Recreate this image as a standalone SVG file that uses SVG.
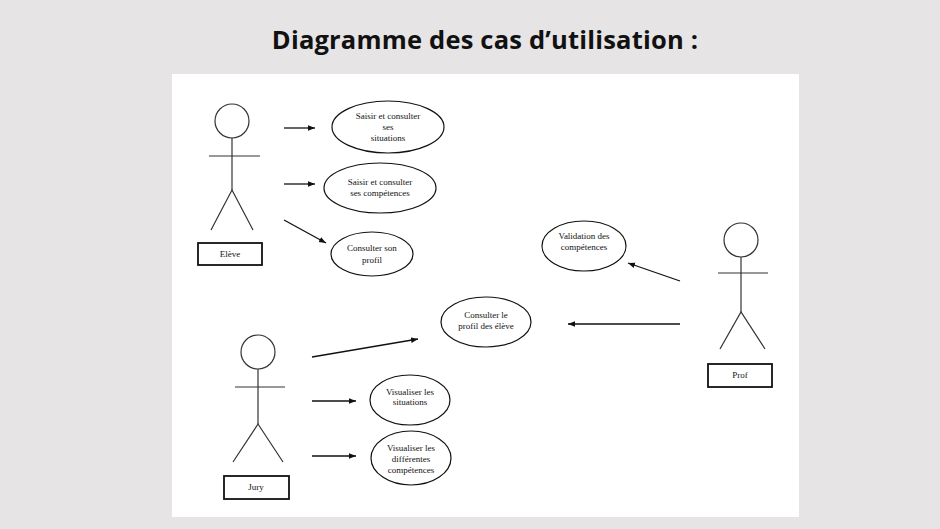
<svg xmlns="http://www.w3.org/2000/svg" width="940" height="529" viewBox="0 0 940 529">
<style>
.a{fill:none;stroke:#333;stroke-width:1.2}
.e{fill:#fff;stroke:#111;stroke-width:1.2}
.c{stroke:#111;stroke-width:1.3;fill:none;marker-end:url(#ar)}
.t{font-family:"Liberation Serif",serif;font-size:9px;fill:#111;text-anchor:middle}
.b{fill:#fff;stroke:#111;stroke-width:1.8}
</style>
<defs><marker id="ar" viewBox="0 0 10 10" refX="10" refY="5" markerWidth="7" markerHeight="7" orient="auto" markerUnits="userSpaceOnUse"><path d="M0,1 L10,5 L0,9z" fill="#111"/></marker></defs>
<rect width="940" height="529" fill="#e6e4e5"/>
<rect x="172" y="74" width="627" height="443" fill="#fff"/>
<text x="485" y="49" font-family="Open Sans,sans-serif" font-weight="bold" font-size="25.5" letter-spacing="0.2" text-anchor="middle" fill="#111">Diagramme des cas d’utilisation :</text>
<g id="eleve">
<circle class="a" cx="232" cy="121" r="17"/><line class="a" x1="232" y1="138" x2="232" y2="190"/><line class="a" x1="209" y1="156" x2="260" y2="156"/><polyline class="a" points="211,230 232,190 253,230"/>
<rect class="b" x="198" y="243" width="64" height="22"/><text class="t" x="230" y="257">Elève</text></g>
<g id="jury">
<circle class="a" cx="258" cy="352" r="17"/><line class="a" x1="258" y1="369" x2="258" y2="424"/><line class="a" x1="235" y1="387" x2="285" y2="387"/><polyline class="a" points="233,462 258,424 283,462"/>
<rect class="b" x="224" y="476" width="65" height="23"/><text class="t" x="256" y="490">Jury</text></g>
<g id="prof">
<circle class="a" cx="741" cy="240" r="17"/><line class="a" x1="741" y1="257" x2="741" y2="312"/><line class="a" x1="718" y1="273" x2="768" y2="273"/><polyline class="a" points="720,349 741,312 765,349"/>
<rect class="b" x="708" y="364" width="64" height="23"/><text class="t" x="740" y="378">Prof</text></g>
<g id="uc1"><ellipse class="e" cx="388" cy="127" rx="56" ry="26"/><text class="t" x="388" y="119">Saisir et consulter</text><text class="t" x="388" y="130">ses</text><text class="t" x="388" y="141">situations</text></g>
<g id="uc2"><ellipse class="e" cx="380" cy="188" rx="56" ry="25"/><text class="t" x="380" y="185">Saisir et consulter</text><text class="t" x="380" y="196">ses compétences</text></g>
<g id="uc3"><ellipse class="e" cx="372" cy="254" rx="41" ry="22"/><text class="t" x="372" y="251">Consulter son</text><text class="t" x="372" y="263">profil</text></g>
<g id="uc4"><ellipse class="e" cx="584" cy="246" rx="42" ry="25"/><text class="t" x="584" y="239">Validation des</text><text class="t" x="584" y="250">compétences</text></g>
<g id="uc5"><ellipse class="e" cx="486" cy="322" rx="45" ry="25"/><text class="t" x="486" y="318">Consulter le</text><text class="t" x="486" y="329">profil des élève</text></g>
<g id="uc6"><ellipse class="e" cx="410" cy="400" rx="40" ry="25"/><text class="t" x="410" y="395">Visualiser les</text><text class="t" x="410" y="405">situations</text></g>
<g id="uc7"><ellipse class="e" cx="411" cy="458" rx="40" ry="27"/><text class="t" x="411" y="451">Visualiser les</text><text class="t" x="411" y="462">différentes</text><text class="t" x="411" y="473">compétences</text></g>
<g id="connectors">
<line class="c" x1="284" y1="128" x2="315" y2="128"/>
<line class="c" x1="284" y1="184" x2="315" y2="184"/>
<line class="c" x1="284" y1="220" x2="326" y2="243"/>
<line class="c" x1="312" y1="357" x2="418" y2="339"/>
<line class="c" x1="312" y1="401" x2="356" y2="401"/>
<line class="c" x1="312" y1="456" x2="356" y2="456"/>
<line class="c" x1="680" y1="281" x2="628" y2="263"/>
<line class="c" x1="680" y1="324" x2="568" y2="324"/>
</g>
</svg>
